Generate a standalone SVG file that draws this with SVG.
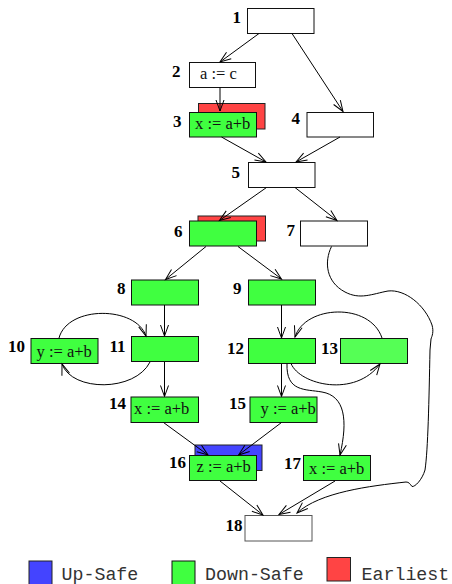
<svg xmlns="http://www.w3.org/2000/svg" width="452" height="584" viewBox="0 0 452 584">
<defs>
<style>
.n{fill:#fff;stroke:#111;stroke-width:1}
.g{fill:#40ff40;stroke:#111;stroke-width:1}
.g2{fill:#55ff55;stroke:#111;stroke-width:1}
.r{fill:#ff4444;stroke:#222;stroke-width:1}
.b{fill:#4444ff;stroke:#222;stroke-width:1}
.lbl{font-family:"Liberation Serif","Times New Roman",serif;font-weight:bold;font-size:17px;fill:#000}
.t{font-family:"Liberation Serif","Times New Roman",serif;font-size:16.5px;fill:#111}
.lg{font-family:"Liberation Mono","Courier New",monospace;font-size:18.3px;fill:#333}
.e{fill:none;stroke:#000;stroke-width:1;marker-end:url(#arr)}
</style>
<marker id="arr" markerUnits="userSpaceOnUse" markerWidth="14" markerHeight="10" refX="11" refY="4" orient="auto" overflow="visible">
<path d="M0,0 L11,4 L0,8" fill="none" stroke="#000" stroke-width="1"/>
</marker>
</defs>
<rect width="452" height="584" fill="#fff"/>

<g id="n1"><rect class="n" x="247.5" y="8.5" width="66.5" height="25"/><text class="lbl" x="232.5" y="22.5">1</text></g>
<g id="n2"><rect class="n" x="189.5" y="62.5" width="66" height="25"/><text class="lbl" x="172" y="76.5">2</text><text class="t" x="200" y="79">a := c</text></g>
<g id="n3"><rect class="r" x="198.5" y="103.5" width="66.5" height="25.5"/><rect class="g" x="189.5" y="112.5" width="67" height="24.5"/><text class="lbl" x="173" y="126.5">3</text><text class="t" x="195" y="129">x := a+b</text></g>
<g id="n4"><rect class="n" x="307" y="112.5" width="66.5" height="24.5"/><text class="lbl" x="291.5" y="124.3">4</text></g>
<g id="n5"><rect class="n" x="248.5" y="162.5" width="66.5" height="25"/><text class="lbl" x="231.5" y="177.5">5</text></g>
<g id="n6"><rect class="r" x="198" y="216" width="67.5" height="25"/><rect class="g" x="189.5" y="221" width="67" height="25"/><text class="lbl" x="174" y="236.5">6</text></g>
<g id="n7"><rect class="n" x="300.5" y="221" width="67" height="25"/><text class="lbl" x="286.5" y="236">7</text></g>
<g id="n8"><rect class="g" x="131.5" y="280" width="67" height="25"/><text class="lbl" x="117" y="294.3">8</text></g>
<g id="n9"><rect class="g" x="248.5" y="280" width="67" height="25"/><text class="lbl" x="233" y="294.3">9</text></g>
<g id="n10"><rect class="g" x="31" y="338.5" width="67" height="25"/><text class="lbl" x="8" y="352.3">10</text><text class="t" x="36.5" y="357">y := a+b</text></g>
<g id="n11"><rect class="g" x="131.5" y="336.5" width="67" height="25"/><text class="lbl" x="109.5" y="352.3">11</text></g>
<g id="n12"><rect class="g" x="248.5" y="338.5" width="67" height="25"/><text class="lbl" x="227" y="354">12</text></g>
<g id="n13"><rect class="g2" x="340.5" y="338.5" width="67" height="25"/><text class="lbl" x="321" y="354">13</text></g>
<g id="n14"><rect class="g" x="131" y="397" width="67.5" height="25.5"/><text class="lbl" x="109" y="409.3">14</text><text class="t" x="134" y="414.3">x := a+b</text></g>
<g id="n15"><rect class="g" x="250" y="397" width="67" height="25.5"/><text class="lbl" x="229" y="409.3">15</text><text class="t" x="260.5" y="414.3">y := a+b</text></g>
<g id="n16"><rect class="b" x="195" y="445" width="67" height="25.5"/><rect class="g" x="189.5" y="455.5" width="67" height="25"/><text class="lbl" x="169" y="468.3">16</text><text class="t" x="196.5" y="472.3">z := a+b</text></g>
<g id="n17"><rect class="g" x="303.5" y="455.5" width="67" height="25"/><text class="lbl" x="284" y="469.3">17</text><text class="t" x="309" y="474">x := a+b</text></g>
<g id="n18"><rect class="n" style="stroke:#555" x="245" y="515.5" width="67" height="25.5"/><text class="lbl" x="225.5" y="530.7">18</text></g>

<g id="edges">
<line class="e" x1="259" y1="33.5" x2="220" y2="62"/>
<line class="e" x1="292" y1="33.5" x2="343" y2="111.5"/>
<line class="e" x1="220" y1="87.5" x2="220" y2="111"/>
<line class="e" x1="221.5" y1="137" x2="266" y2="162"/>
<line class="e" x1="340" y1="137" x2="296" y2="162"/>
<line class="e" x1="266.5" y1="187.5" x2="219.5" y2="220.5"/>
<line class="e" x1="295" y1="187.5" x2="337" y2="220.5"/>
<line class="e" x1="206" y1="246.5" x2="165.5" y2="279.5"/>
<line class="e" x1="238" y1="246.5" x2="281.5" y2="279"/>
<line class="e" x1="164.5" y1="305" x2="164.5" y2="336"/>
<line class="e" x1="281.5" y1="305" x2="281.5" y2="338"/>
<line class="e" x1="164.5" y1="362" x2="164.5" y2="396.5"/>
<line class="e" x1="281.5" y1="364" x2="281.5" y2="396.5"/>
<line class="e" x1="163.5" y1="422.5" x2="208" y2="455"/>
<line class="e" x1="281.5" y1="422.5" x2="238.5" y2="455"/>
<line class="e" x1="220" y1="481" x2="263" y2="515"/>
<line class="e" x1="335" y1="481" x2="279" y2="514.5"/>
<path class="e" d="M59,338 C68,305 136,306 146,336"/>
<path class="e" d="M150,362 C135,392 72,392 62,364"/>
<path class="e" d="M382,338 C370,302 305,305 295,337"/>
<path class="e" d="M291,363.5 C300,385 355,398 380,364"/>
<path class="e" d="M287,363.5 C286,392 305,389 322,392 C345,396 348,420 340,455"/>
<path class="e" d="M331.5,246.5 C324,262 326,282 345,292 C360,300 372,294 388,291 C405,289 425,305 432,325 C434,332 432,336 431,339 L430,350 C429,400 428,450 425,470 C422,480 415,487 412,486.5 C410,484 409,482 406,482 C370,486 320,492 297,513"/>
</g>

<g id="legend">
<rect class="b" x="29" y="561" width="23" height="24"/>
<text class="lg" x="61.5" y="580">Up-Safe</text>
<rect class="g" x="172" y="561" width="23" height="24"/>
<text class="lg" x="205" y="580">Down-Safe</text>
<rect class="r" x="327" y="557.5" width="23.5" height="23.5"/>
<text class="lg" x="361.5" y="580">Earliest</text>
</g>
</svg>
